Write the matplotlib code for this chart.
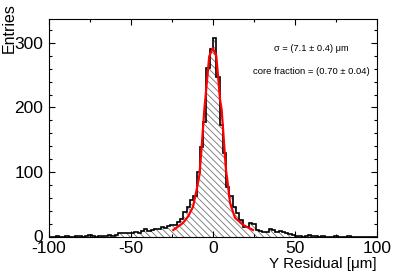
import numpy as np
import matplotlib
matplotlib.use('Agg')
import matplotlib.pyplot as plt

plt.rcParams['font.family'] = ['Liberation Sans', 'DejaVu Sans']
plt.rcParams['hatch.linewidth'] = 0.6
plt.rcParams['axes.unicode_minus'] = False

# histogram: 100 bins of 2 um from -100 to 100
edges = np.arange(-100, 101, 2)
counts = [0, 0, 1, 0, 0, 1, 0, 0, 1, 1,
          0, 1, 3, 1, 0, 1, 1, 1, 2, 1,
          2, 5, 5, 5, 6, 5, 7, 6, 9, 11,
          9, 10, 12, 11, 14, 13, 16, 18, 18, 22,
          27, 38, 46, 57, 62, 100, 139, 177, 261, 290,
          308, 247, 173, 129, 77, 62, 46, 36, 26, 15,
          14, 21, 19, 10, 8, 7, 7, 11, 10, 7,
          8, 7, 5, 4, 2, 1, 1, 0, 1, 3,
          1, 1, 0, 1, 0, 0, 0, 1, 0, 0,
          0, 1, 0, 0, 0, 0, 0, 0, 0, 0]

# fit curve
fit_x = [-24.2, -18.3, -15.2, -12.2, -10.0, -8.3, -6.9, -5.3, -2.3, -0.2,
         2.0, 4.3, 5.3, 7.9, 8.7, 10.4, 13.4, 18.3, 24.4]
fit_y = [10, 21, 31, 46, 72, 95, 139, 196, 279, 292,
         280, 212, 196, 103, 88, 52, 29, 18, 10]

fig = plt.figure(figsize=(4.07, 2.76), dpi=100)
ax = fig.add_axes([49/407, 39.5/276, 328/407, 217.5/276])

ax.stairs(counts, edges, fill=True, hatch='\\\\\\\\\\', facecolor='none',
          edgecolor='0.45', linewidth=0)
ax.stairs(counts, edges, color='black', linewidth=1.2)
ax.plot(fit_x, fit_y, color='red', linewidth=1.6)

ax.set_xlim(-100, 100)
ax.set_ylim(0, 337)
ax.set_xticks([-100, -50, 0, 50, 100])
ax.set_xticks([-75, -25, 25, 75], minor=True)
ax.set_yticks([0, 100, 200, 300])
ax.set_yticks(np.arange(0, 337, 20), minor=True)
ax.tick_params(which='both', direction='in', top=True, right=True,
               labelsize=12.5)
ax.tick_params(axis='x', pad=3)
ax.tick_params(axis='y', pad=4)
ax.tick_params(which='major', length=4.5, width=0.8)
ax.tick_params(which='minor', length=2.3, width=0.8)
for s in ax.spines.values():
    s.set_linewidth(0.8)

ax.set_xlabel('Y Residual [\u03bcm]', fontsize=11, loc='right', labelpad=1)
ax.set_ylabel('Entries', fontsize=11.5, loc='top')
ax.yaxis.set_label_coords(-0.098, 1.075)

ax.text(0.80, 0.865, '\u03c3 = (7.1 \u00b1 0.4) \u03bcm', transform=ax.transAxes,
        ha='center', va='center', fontsize=6.7)
ax.text(0.80, 0.76, 'core fraction = (0.70 \u00b1 0.04)', transform=ax.transAxes,
        ha='center', va='center', fontsize=6.8)

fig.savefig('out.png', dpi=100)
